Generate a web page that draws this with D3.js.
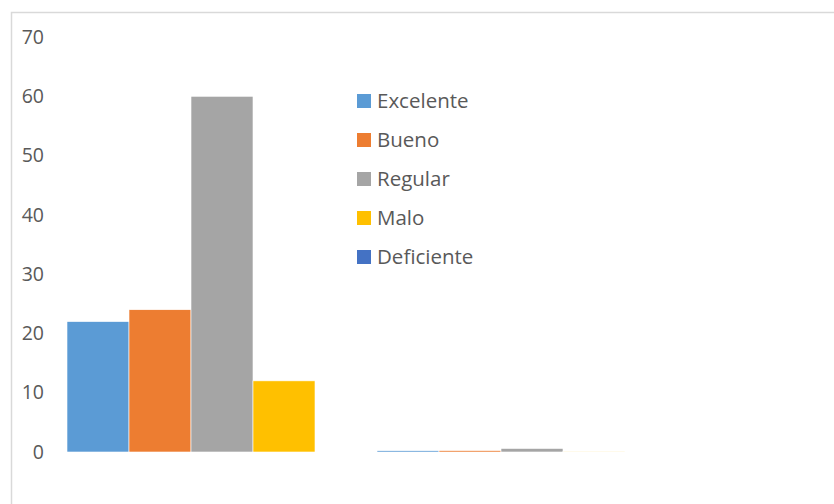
<!DOCTYPE html>
<html><head><meta charset="utf-8">
<script src="https://cdn.jsdelivr.net/npm/d3@7"></script>
<style>body{margin:0;background:#fff}svg{display:block}</style>
</head><body>
<script>
const categories = ["1", "2"];
const seriesNames = ["Excelente", "Bueno", "Regular", "Malo", "Deficiente"];
const seriesColors = ["#5B9BD5", "#ED7D31", "#A5A5A5", "#FFC000", "#4472C4"];
const excelente = [22, 0.22];
const bueno = [24, 0.24];
const regular = [60, 0.6];
const malo = [12, 0.12];
const deficiente = [0, 0];
const yTicks = [0, 10, 20, 30, 40, 50, 60, 70];

const values = [excelente, bueno, regular, malo, deficiente];
const W = 834, H = 504;
const svg = d3.select("body").append("svg").attr("width", W).attr("height", H);

svg.append("rect").attr("x", 11.5).attr("y", 12.5).attr("width", 900).attr("height", 600)
  .attr("fill", "none").attr("stroke", "#d9d9d9").attr("stroke-width", 1.5);

const y = d3.scaleLinear().domain([0, 70]).range([452, 37]);
const x0 = d3.scaleBand().domain(categories).range([67, 687]).paddingInner(0).paddingOuter(0);
const x1 = d3.scaleBand().domain(seriesNames).range([0, x0.bandwidth()]).padding(0);

const yAxis = d3.axisLeft(y).tickValues(yTicks).tickSize(0).tickPadding(0);
const ga = svg.append("g").attr("transform", "translate(44,0)").call(yAxis);
ga.select(".domain").remove();
ga.selectAll("text").attr("fill", "#595959").style("font-family", "'Open Sans', sans-serif").style("font-size", "19.5px");

const data = [];
categories.forEach((c, i) => seriesNames.forEach((s, j) => data.push({c, s, v: values[j][i], col: seriesColors[j]})));

svg.append("g").selectAll("rect").data(data).join("rect")
  .attr("x", d => x0(d.c) + x1(d.s))
  .attr("width", x1.bandwidth())
  .attr("y", d => y(d.v))
  .attr("height", d => y(0) - y(d.v))
  .attr("fill", d => d.col)
  .attr("stroke", "#fff").attr("stroke-width", 0.6);

const lg = svg.append("g");
seriesNames.forEach((s, i) => {
  const cy = 101 + i * 39;
  lg.append("rect").attr("x", 357).attr("y", cy - 7).attr("width", 14).attr("height", 14).attr("fill", seriesColors[i]);
  lg.append("text").attr("x", 377).attr("y", cy).attr("dy", "0.36em").text(s)
    .attr("fill", "#595959").style("font-family", "'Open Sans', sans-serif").style("font-size", "20.5px");
});
</script>
</body></html>
